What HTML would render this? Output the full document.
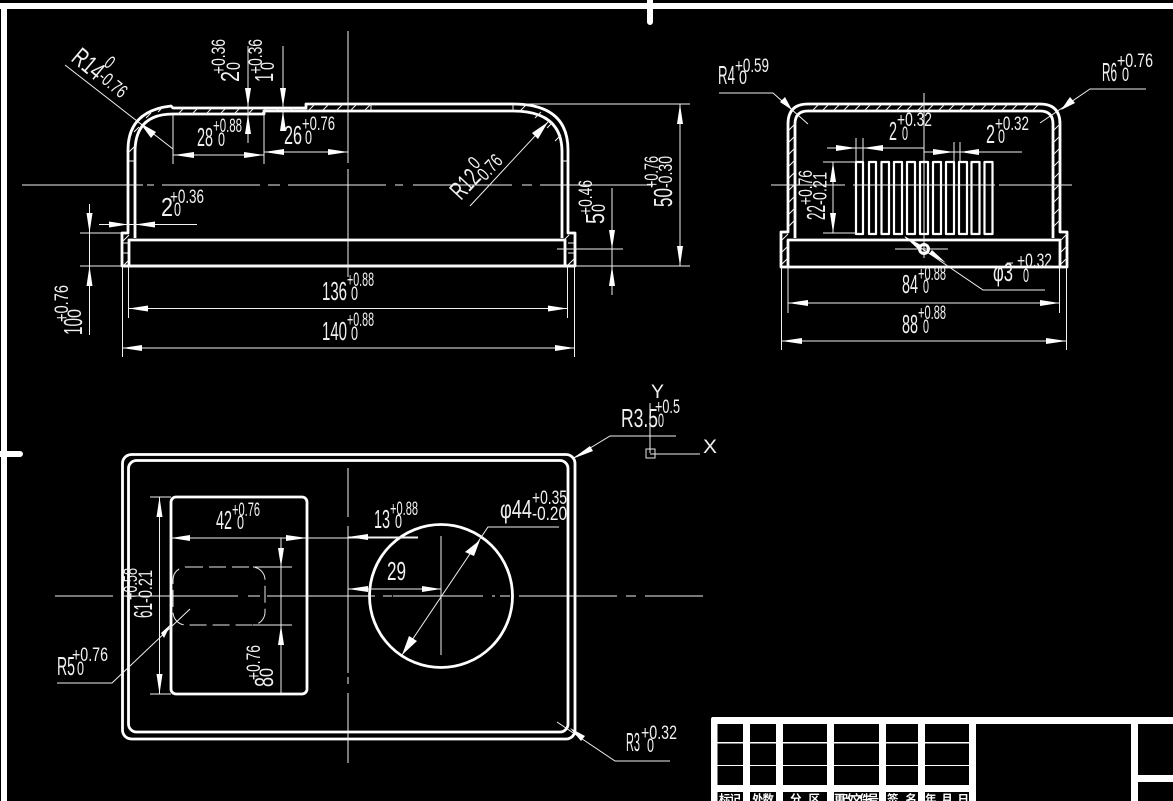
<!DOCTYPE html>
<html><head><meta charset="utf-8">
<style>
html,body{margin:0;padding:0;background:#000;width:1173px;height:801px;overflow:hidden}
svg{display:block}
text{fill:#f0f0f0;font-family:"Liberation Sans","Noto Sans CJK SC",sans-serif}
.m{font-size:26px}
.t{font-size:19px}
.c{font-size:11.5px;font-weight:700;fill:#fff}
.k{fill:none;stroke:#fff;stroke-width:2.8;stroke-linejoin:round}
.n{fill:none;stroke:#f0f0f0;stroke-width:1}
.a{fill:#fff;stroke:none}
</style></head><body>
<svg width="1173" height="801" viewBox="0 0 1173 801" xmlns="http://www.w3.org/2000/svg">
<rect width="1173" height="801" fill="#000"/>
<!-- frame -->
<path d="M0 6H1173M4 3V801" stroke="#fff" stroke-width="6" fill="none"/>
<path d="M650 0V22M0 454H20" stroke="#fff" stroke-width="6" stroke-linecap="round" fill="none"/>

<!-- TOP-LEFT VIEW thick -->
<g class="k">
<path d="M122 233H128V150Q128 111 171 106L173 108H264H306V104H513Q568 104 568 150V233H575V266H122Z"/>
<path d="M135 238V152Q135 114 173 114H264V111H513Q562 111 562 152V238"/>
<path d="M129 266V240H565V266"/>
<path d="M122 266H575"/>
</g>
<!-- hatch top-left -->
<path class="n" d="M178 114l6-6M192 114l6-6M206 114l6-6M220 114l6-6M234 114l6-6M248 114l6-6M262 113l5-5M276 111l3-3M290 111l3-3M308 111l7-7M322 111l7-7M336 111l7-7M350 111l7-7M364 111l7-7M371 104v7M513 104v7M520 111l6-6M535 118l6-6M547 128l6-6M555 141l6-6M129 161h6M129 152l6-6M134 132l5-5M146 118l5-5M158 112l5-5M123 241l6-6M123 243h6M123 253h6M124 265l5-5M562 161h6M563 241l6-6M568 243h6M568 253h6M568 265l6-6" stroke-width="0.9"/>
<!-- center lines -->
<path class="n" shape-rendering="crispEdges" d="M22 185H143M147 185H154M162 185H260M268 185H280M288 185H386M395 185H403M413 185H512M522 185H532M540 185H653"/>
<path class="n" shape-rendering="crispEdges" d="M348 31V163M348 169V277"/>
<!-- dims top-left thin -->
<path class="n" shape-rendering="crispEdges" d="M248 46V143M283 46V131M173 114V164M264 113V164M173 155H264M264 152H348M99 224.500H197M89.500 204V335M80 233H122M80 266H690M513 104H690M128.500 266V318M567.500 266V318M122.500 266V357M574.500 266V357M128.500 308.500H567.500M122.500 348H574.500M612 188V295M557 249H623M680 104V266"/>
<path class="n" d="M65 65L173 149M470 206L548 122"/>
<g class="a">
<polygon points="140,123 156,132 151,138"/>
<polygon points="248,107 245,88 251,88"/><polygon points="248,114 245,134 251,134"/>
<polygon points="283,107 280,88 286,88"/><polygon points="283,111 280,131 286,131"/>
<polygon points="174,155 194,152 194,158"/><polygon points="264,155 244,152 244,158"/>
<polygon points="264,152 284,149 284,155"/><polygon points="348,152 328,149 328,155"/>
<polygon points="128,224.500 109,221.500 109,227.500"/><polygon points="135,224.500 155,221.500 155,227.500"/>
<polygon points="89.500,233 86.500,213 92.500,213"/><polygon points="89.500,266 86.500,286 92.500,286"/>
<polygon points="128.500,308.500 148,305.500 148,311.500"/><polygon points="567.500,308.500 548,305.500 548,311.500"/>
<polygon points="122.500,348 142,345 142,351"/><polygon points="574.500,348 555,345 555,351"/>
<polygon points="548,122 538,139 532,133"/>
<polygon points="612,249 609,230 615,230"/><polygon points="612,266 609,286 615,286"/>
<polygon points="680,104 677,124 683,124"/><polygon points="680,266 677,246 683,246"/>
</g>
<!-- text top-left -->
<text class="m" textLength="33" lengthAdjust="spacingAndGlyphs" transform="translate(70 60) rotate(40)">R14</text>
<text class="t" textLength="7" lengthAdjust="spacingAndGlyphs" transform="translate(103 65) rotate(40)">0</text>
<text class="t" textLength="31" lengthAdjust="spacingAndGlyphs" transform="translate(97 79) rotate(40)">-0.76</text>
<text class="m" textLength="16" lengthAdjust="spacingAndGlyphs" x="197" y="146">28</text>
<text class="t" textLength="7" lengthAdjust="spacingAndGlyphs" x="218" y="146">0</text>
<text class="t" textLength="29" lengthAdjust="spacingAndGlyphs" x="213" y="132">+0.88</text>
<text class="m" textLength="18" lengthAdjust="spacingAndGlyphs" x="284" y="144">26</text>
<text class="t" textLength="7" lengthAdjust="spacingAndGlyphs" x="305" y="144">0</text>
<text class="t" textLength="33" lengthAdjust="spacingAndGlyphs" x="302" y="130">+0.76</text>
<text class="m" textLength="11" lengthAdjust="spacingAndGlyphs" transform="translate(239 82) rotate(-90)">2</text>
<text class="t" textLength="8" lengthAdjust="spacingAndGlyphs" transform="translate(240 70) rotate(-90)">0</text>
<text class="t" textLength="35" lengthAdjust="spacingAndGlyphs" transform="translate(225 74) rotate(-90)">+0.36</text>
<text class="m" textLength="9" lengthAdjust="spacingAndGlyphs" transform="translate(273 82) rotate(-90)">1</text>
<text class="t" textLength="8" lengthAdjust="spacingAndGlyphs" transform="translate(274 70) rotate(-90)">0</text>
<text class="t" textLength="35" lengthAdjust="spacingAndGlyphs" transform="translate(262 74) rotate(-90)">+0.36</text>
<text class="m" textLength="12" lengthAdjust="spacingAndGlyphs" x="161" y="216">2</text>
<text class="t" textLength="7" lengthAdjust="spacingAndGlyphs" x="174" y="216">0</text>
<text class="t" textLength="34" lengthAdjust="spacingAndGlyphs" x="170" y="203">+0.36</text>
<text class="m" textLength="17" lengthAdjust="spacingAndGlyphs" transform="translate(82 335) rotate(-90)">10</text>
<text class="t" textLength="9" lengthAdjust="spacingAndGlyphs" transform="translate(81 318) rotate(-90)">0</text>
<text class="t" textLength="37" lengthAdjust="spacingAndGlyphs" transform="translate(68 322) rotate(-90)">+0.76</text>
<text class="m" textLength="25" lengthAdjust="spacingAndGlyphs" x="322" y="300">136</text>
<text class="t" textLength="7" lengthAdjust="spacingAndGlyphs" x="351" y="300">0</text>
<text class="t" textLength="27" lengthAdjust="spacingAndGlyphs" x="347" y="286">+0.88</text>
<text class="m" textLength="25" lengthAdjust="spacingAndGlyphs" x="322" y="340">140</text>
<text class="t" textLength="7" lengthAdjust="spacingAndGlyphs" x="351" y="340">0</text>
<text class="t" textLength="27" lengthAdjust="spacingAndGlyphs" x="347" y="326">+0.88</text>
<text class="m" textLength="30" lengthAdjust="spacingAndGlyphs" transform="translate(461 201) rotate(-47)">R12</text>
<text class="t" textLength="8" lengthAdjust="spacingAndGlyphs" transform="translate(476 170) rotate(-47)">0</text>
<text class="t" textLength="32" lengthAdjust="spacingAndGlyphs" transform="translate(482 185) rotate(-47)">-0.76</text>
<text class="m" textLength="11" lengthAdjust="spacingAndGlyphs" transform="translate(604 224) rotate(-90)">5</text>
<text class="t" textLength="8" lengthAdjust="spacingAndGlyphs" transform="translate(605 212) rotate(-90)">0</text>
<text class="t" textLength="35" lengthAdjust="spacingAndGlyphs" transform="translate(592 215) rotate(-90)">+0.46</text>
<text class="m" textLength="19" lengthAdjust="spacingAndGlyphs" transform="translate(672 207) rotate(-90)">50</text>
<text class="t" textLength="32" lengthAdjust="spacingAndGlyphs" transform="translate(658 188) rotate(-90)">+0.76</text>
<text class="t" textLength="32" lengthAdjust="spacingAndGlyphs" transform="translate(672 188) rotate(-90)">-0.30</text>

<!-- RIGHT VIEW -->
<g class="k">
<path d="M781 267V232H788V124Q788 104 808 104H1040Q1060 104 1060 124V232H1067V267Z"/>
<path d="M795 238V124Q795 111 808 111H1040Q1053 111 1053 124V238"/>
<path d="M788 267V240H1060V267"/>
</g>
<g class="k" style="stroke-width:2.2">
<rect x="856" y="162" width="7" height="72"/><rect x="869" y="162" width="7" height="72"/><rect x="881.500" y="162" width="7.500" height="72"/><rect x="894" y="162" width="8" height="72"/><rect x="907" y="162" width="8" height="72"/><rect x="920" y="162" width="8" height="72"/><rect x="933" y="162" width="8" height="72"/><rect x="946" y="162" width="8" height="72"/><rect x="959" y="162" width="8" height="72"/><rect x="971.500" y="162" width="8" height="72"/><rect x="984.500" y="162" width="8" height="72"/>
</g>
<circle cx="924" cy="249" r="4.500" fill="none" stroke="#fff" stroke-width="3"/>
<path class="n" stroke-width="0.9" d="M812 111l7-7M822 111l7-7M833 111l7-7M843 111l7-7M854 111l7-7M864 111l7-7M875 111l7-7M885 111l7-7M896 111l7-7M906 111l7-7M917 111l7-7M927 111l7-7M938 111l7-7M948 111l7-7M959 111l7-7M969 111l7-7M980 111l7-7M990 111l7-7M1001 111l7-7M1011 111l7-7M1022 111l7-7M1032 111l7-7M789 130l6-6M789 142l6-6M789 154l6-6M789 166l6-6M789 178l6-6M789 190l6-6M789 202l6-6M789 214l6-6M789 226l6-6M1054 130l6-6M1054 142l6-6M1054 154l6-6M1054 166l6-6M1054 178l6-6M1054 190l6-6M1054 202l6-6M1054 214l6-6M1054 226l6-6M782 240l6-6M782 252l6-6M782 264l6-6M1061 240l6-6M1061 252l6-6M1061 264l6-6"/>
<path class="n" shape-rendering="crispEdges" d="M924 93V240M771 185H845M853 185H995M999 185H1072M895 249H948M924 240V258M827 148H924M856 138V162M863 138V162M924 152H1022M954 142V162M960 142V162M833 162V233M823 162H856M823 233H856M788 267V313M1059.500 267V313M788 303H1059.500M781.500 267V350M1066.500 267V350M781.500 341H1066.500M1007 263H1013"/>
<path class="n" d="M719 93H773L808 124M1146 89H1090L1040 123M905 237L983 290H1045"/>
<g class="a">
<polygon points="792,110 780,102 785,97"/>
<polygon points="1061,110 1070,97 1075,103"/>
<polygon points="856,148 836,145 836,151"/><polygon points="863,148 883,145 883,151"/>
<polygon points="954,152 933,149 933,155"/><polygon points="960,152 979,149 979,155"/>
<polygon points="833,162 830,182 836,182"/><polygon points="833,233 830,213 836,213"/>
<polygon points="788,303 808,300 808,306"/><polygon points="1059.500,303 1040,300 1040,306"/>
<polygon points="781.500,341 802,338 802,344"/><polygon points="1066.500,341 1046,338 1046,344"/>
<polygon points="904,236 921,245 918,249"/><polygon points="946,263 929,254 932,250"/>
</g>
<text class="m" textLength="17" lengthAdjust="spacingAndGlyphs" x="718" y="84">R4</text>
<text class="t" textLength="8" lengthAdjust="spacingAndGlyphs" x="739" y="84">0</text>
<text class="t" textLength="34" lengthAdjust="spacingAndGlyphs" x="735" y="72">+0.59</text>
<text class="m" textLength="15" lengthAdjust="spacingAndGlyphs" x="1102" y="81">R6</text>
<text class="t" textLength="7" lengthAdjust="spacingAndGlyphs" x="1122" y="81">0</text>
<text class="t" textLength="36" lengthAdjust="spacingAndGlyphs" x="1117" y="67">+0.76</text>
<text class="m" textLength="8" lengthAdjust="spacingAndGlyphs" x="889" y="140">2</text>
<text class="t" textLength="6" lengthAdjust="spacingAndGlyphs" x="902" y="140">0</text>
<text class="t" textLength="35" lengthAdjust="spacingAndGlyphs" x="897" y="126">+0.32</text>
<text class="m" textLength="9" lengthAdjust="spacingAndGlyphs" x="986" y="143">2</text>
<text class="t" textLength="7" lengthAdjust="spacingAndGlyphs" x="998" y="143">0</text>
<text class="t" textLength="34" lengthAdjust="spacingAndGlyphs" x="995" y="130">+0.32</text>
<text class="m" textLength="15" lengthAdjust="spacingAndGlyphs" transform="translate(825 220) rotate(-90)">22</text>
<text class="t" textLength="35" lengthAdjust="spacingAndGlyphs" transform="translate(812 205) rotate(-90)">+0.76</text>
<text class="t" textLength="33" lengthAdjust="spacingAndGlyphs" transform="translate(826.500 205) rotate(-90)">-0.21</text>
<text class="m" textLength="16" lengthAdjust="spacingAndGlyphs" x="902" y="293">84</text>
<text class="t" textLength="6" lengthAdjust="spacingAndGlyphs" x="923" y="293">0</text>
<text class="t" textLength="28" lengthAdjust="spacingAndGlyphs" x="918" y="280">+0.88</text>
<text class="m" textLength="16" lengthAdjust="spacingAndGlyphs" x="902" y="333">88</text>
<text class="t" textLength="6" lengthAdjust="spacingAndGlyphs" x="923" y="333">0</text>
<text class="t" textLength="28" lengthAdjust="spacingAndGlyphs" x="918" y="319">+0.88</text>
<text class="m" textLength="20" lengthAdjust="spacingAndGlyphs" x="993" y="281">φ3</text>
<text class="t" textLength="6" lengthAdjust="spacingAndGlyphs" x="1023" y="282">0</text>
<text class="t" textLength="35" lengthAdjust="spacingAndGlyphs" x="1017" y="267">+0.32</text>

<!-- BOTTOM VIEW -->
<g class="k">
<rect x="122.500" y="454.500" width="452.500" height="284.500" rx="9"/>
<rect x="128.500" y="460.500" width="439.500" height="271.500" rx="8"/>
<rect x="171" y="497" width="136" height="197" rx="5"/>
<circle cx="441" cy="596" r="71.500"/>
</g>
<rect x="173" y="567" width="92" height="58" rx="13" fill="none" stroke="#e8e8e8" stroke-width="1" stroke-dasharray="17 6"/>
<path class="n" shape-rendering="crispEdges" d="M55 596H113M123 596H238M248 596H260M267 596H375M383 596H392M393 596H483M492 596H495M500 596H510M519 596H617M626 596H636M645 596H703"/>
<path class="n" shape-rendering="crispEdges" d="M348 468V517M348 526V673M348 677V684M348 693V763M441 536V655M400 596H482"/>
<path class="n" shape-rendering="crispEdges" d="M159.500 497V694M150 497H171M150 694H171M171 538H307M286 538H418M281 538V694M253 567H292M253 625H292M348 589H441M348 537H418M650 403V453M650 454H700"/>
<path class="n" d="M57 683H112L190 609M676 436H610L572 459M559 527H488L402 655M557 722L615 761H670"/>
<rect x="646" y="449" width="9" height="9" fill="none" stroke="#e8e8e8"/>
<g class="a">
<polygon points="159.500,497 156.500,517 162.500,517"/><polygon points="159.500,694 156.500,674 162.500,674"/>
<polygon points="171,538 190,535 190,541"/><polygon points="307,538 286,535 286,541"/>
<polygon points="348,537 368,534 368,540"/>
<polygon points="281,567 278,548 284,548"/><polygon points="281,625 278,645 284,645"/>
<polygon points="171,624 164,638 161,633"/>
<polygon points="572,459 590,446 593,451"/>
<polygon points="480,540 474,556 465,552"/><polygon points="402,655 409,636 417,641"/>
<polygon points="348,589 368,586 368,592"/><polygon points="441,589 422,586 422,592"/>
<polygon points="570,728 585,736 581,741"/>
</g>
<text class="m" textLength="37" lengthAdjust="spacingAndGlyphs" x="621" y="427">R3.5</text>
<text class="t" textLength="6" lengthAdjust="spacingAndGlyphs" x="658" y="427">0</text>
<text class="t" textLength="25" lengthAdjust="spacingAndGlyphs" x="655" y="413">+0.5</text>
<text class="t" textLength="13" lengthAdjust="spacingAndGlyphs" x="651" y="398">Y</text>
<text class="t" textLength="14" lengthAdjust="spacingAndGlyphs" x="703" y="453">X</text>
<text class="m" textLength="32" lengthAdjust="spacingAndGlyphs" x="500" y="518">φ44</text>
<text class="t" textLength="35" lengthAdjust="spacingAndGlyphs" x="532" y="504">+0.35</text>
<text class="t" textLength="35" lengthAdjust="spacingAndGlyphs" x="532" y="520">-0.20</text>
<text class="m" textLength="16" lengthAdjust="spacingAndGlyphs" x="374" y="528">13</text>
<text class="t" textLength="7" lengthAdjust="spacingAndGlyphs" x="395" y="528">0</text>
<text class="t" textLength="28" lengthAdjust="spacingAndGlyphs" x="390" y="515">+0.88</text>
<text class="m" textLength="19" lengthAdjust="spacingAndGlyphs" x="387" y="580">29</text>
<text class="m" textLength="16" lengthAdjust="spacingAndGlyphs" x="216" y="529">42</text>
<text class="t" textLength="7" lengthAdjust="spacingAndGlyphs" x="237" y="529">0</text>
<text class="t" textLength="28" lengthAdjust="spacingAndGlyphs" x="232" y="516">+0.76</text>
<text class="m" textLength="15" lengthAdjust="spacingAndGlyphs" transform="translate(152 618) rotate(-90)">61</text>
<text class="t" textLength="32" lengthAdjust="spacingAndGlyphs" transform="translate(137 600) rotate(-90)">+0.58</text>
<text class="t" textLength="33" lengthAdjust="spacingAndGlyphs" transform="translate(152 603) rotate(-90)">-0.21</text>
<text class="m" textLength="10" lengthAdjust="spacingAndGlyphs" transform="translate(273 687) rotate(-90)">8</text>
<text class="t" textLength="9" lengthAdjust="spacingAndGlyphs" transform="translate(273 677) rotate(-90)">0</text>
<text class="t" textLength="35" lengthAdjust="spacingAndGlyphs" transform="translate(260 680) rotate(-90)">+0.76</text>
<text class="m" textLength="18" lengthAdjust="spacingAndGlyphs" x="57" y="675">R5</text>
<text class="t" textLength="7" lengthAdjust="spacingAndGlyphs" x="77" y="675">0</text>
<text class="t" textLength="36" lengthAdjust="spacingAndGlyphs" x="72" y="661">+0.76</text>
<text class="m" textLength="14" lengthAdjust="spacingAndGlyphs" x="626" y="751">R3</text>
<text class="t" textLength="7" lengthAdjust="spacingAndGlyphs" x="647" y="752">0</text>
<text class="t" textLength="36" lengthAdjust="spacingAndGlyphs" x="641" y="739">+0.32</text>

<!-- TITLE BLOCK -->
<path d="M711 801V719Q711 717 713 717H1173V801Z" fill="#fff"/>
<g fill="#000">
<rect x="717.500" y="724" width="25.500" height="18"/><rect x="717.500" y="743.500" width="25.500" height="21.500"/><rect x="717.500" y="766" width="25.500" height="19"/><rect x="717.500" y="792" width="25.500" height="9"/>
<rect x="750" y="724" width="26" height="18"/><rect x="750" y="743.500" width="26" height="21.500"/><rect x="750" y="766" width="26" height="19"/><rect x="750" y="792" width="26" height="9"/>
<rect x="783" y="724" width="44" height="18"/><rect x="783" y="743.500" width="44" height="21.500"/><rect x="783" y="766" width="44" height="19"/><rect x="783" y="792" width="44" height="9"/>
<rect x="834" y="724" width="45" height="18"/><rect x="834" y="743.500" width="45" height="21.500"/><rect x="834" y="766" width="45" height="19"/><rect x="834" y="792" width="45" height="9"/>
<rect x="886" y="724" width="32" height="18"/><rect x="886" y="743.500" width="32" height="21.500"/><rect x="886" y="766" width="32" height="19"/><rect x="886" y="792" width="32" height="9"/>
<rect x="925" y="724" width="44" height="18"/><rect x="925" y="743.500" width="44" height="21.500"/><rect x="925" y="766" width="44" height="19"/><rect x="925" y="792" width="44" height="9"/>
<rect x="976" y="724" width="155" height="77"/>
<rect x="1138" y="724" width="35" height="51"/><rect x="1138" y="782" width="35" height="19"/>
</g>
<text class="c" x="719" y="803" textLength="22">标记</text>
<text class="c" x="752" y="803" textLength="22">处数</text>
<text class="c" x="790" y="803" textLength="30">分区</text>
<text class="c" x="834" y="803" textLength="45">更改文件号</text>
<text class="c" x="887" y="803" textLength="30">签名</text>
<text class="c" x="925" y="803" textLength="44">年月日</text>
</svg>
</body></html>
